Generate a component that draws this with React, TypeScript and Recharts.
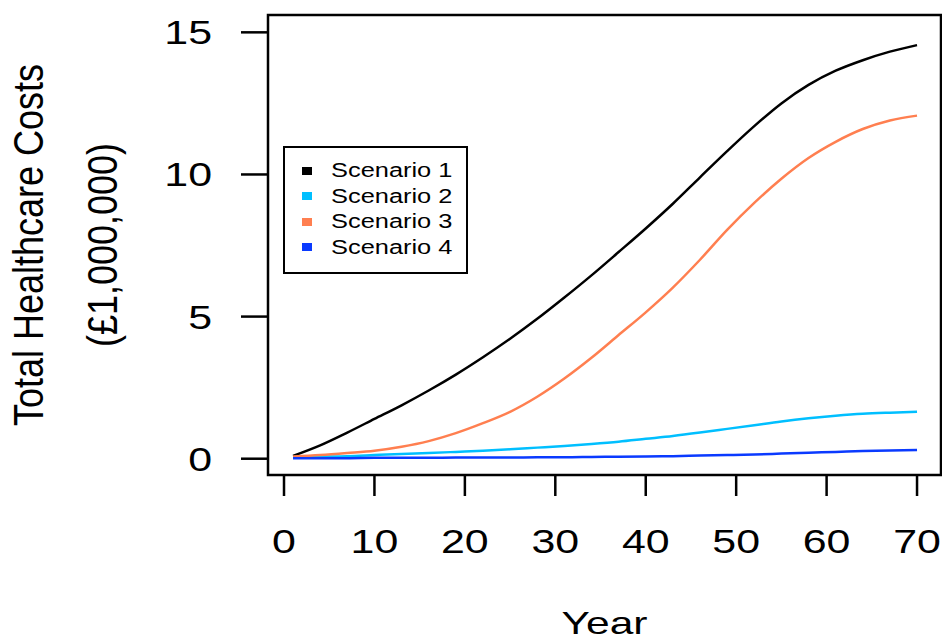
import { LineChart, Line, XAxis, YAxis, ReferenceArea, Label } from 'recharts';

const years = [1, 4, 7, 10, 13, 16, 19, 22, 25, 28, 31, 34, 37, 40, 43, 46, 49, 52, 55, 58, 61, 64, 67, 70];

const scenario1 = [0.1, 0.47, 0.92, 1.4, 1.88, 2.4, 2.96, 3.57, 4.22, 4.92, 5.67, 6.45, 7.27, 8.1, 8.97, 9.9, 10.82, 11.7, 12.5, 13.15, 13.65, 14.02, 14.32, 14.55];
const scenario2 = [0.05, 0.07, 0.09, 0.13, 0.17, 0.2, 0.24, 0.28, 0.33, 0.39, 0.45, 0.52, 0.6, 0.7, 0.8, 0.92, 1.05, 1.18, 1.31, 1.42, 1.51, 1.58, 1.62, 1.65];
const scenario3 = [0.08, 0.13, 0.2, 0.28, 0.42, 0.62, 0.9, 1.25, 1.65, 2.18, 2.82, 3.55, 4.35, 5.15, 6.02, 7.0, 8.05, 9.0, 9.85, 10.58, 11.15, 11.6, 11.9, 12.07];
const scenario4 = [0.02, 0.02, 0.02, 0.03, 0.03, 0.03, 0.04, 0.04, 0.04, 0.05, 0.05, 0.06, 0.07, 0.08, 0.09, 0.11, 0.13, 0.15, 0.18, 0.21, 0.24, 0.27, 0.29, 0.31];

const seriesNames = ['Scenario 1', 'Scenario 2', 'Scenario 3', 'Scenario 4'];
const seriesKeys = ['s1', 's2', 's3', 's4'];
const seriesColors = ['#000000', '#00BFFF', '#FF7F50', '#0a3aff'];
const seriesValues = [scenario1, scenario2, scenario3, scenario4];

const xTicks = [0, 10, 20, 30, 40, 50, 60, 70];
const yTicks = [0, 5, 10, 15];

const X_DOMAIN: [number, number] = [-1.77, 72.65];
const Y_DOMAIN: [number, number] = [-0.573, 15.61];

const data = years.map((year, i) => {
  const row: Record<string, number> = { year };
  seriesKeys.forEach((key, k) => {
    row[key] = seriesValues[k][i];
  });
  return row;
});

const FONT = '"Liberation Sans", Arial, sans-serif';

function XTick({ x, y, payload }: any) {
  return (
    <g transform={`translate(${x},${y})`}>
      <text transform="scale(1.3,1)" y={57} textAnchor="middle" fontSize={33} fontFamily={FONT} fill="#000">
        {payload.value}
      </text>
    </g>
  );
}

function YTick({ x, y, payload }: any) {
  return (
    <g transform={`translate(${x - 29},${y})`}>
      <text transform="scale(1.3,1)" y={12} textAnchor="end" fontSize={33} fontFamily={FONT} fill="#000">
        {payload.value}
      </text>
    </g>
  );
}

function XTitle({ viewBox }: any) {
  const { x, y, width } = viewBox;
  return (
    <g transform={`translate(${x + width / 2},${y + 159})`}>
      <text transform="scale(1.33,1)" textAnchor="middle" fontSize={32} fontFamily={FONT} fill="#000">
        Year
      </text>
    </g>
  );
}

function YTitle({ viewBox }: any) {
  const { y, height } = viewBox;
  const cy = y + height / 2;
  return (
    <g fontSize={36} fontFamily={FONT} fill="#000">
      <text transform={`translate(43,${cy}) scale(1.17,1) rotate(-90)`} textAnchor="middle">
        Total Healthcare Costs
      </text>
      <text transform={`translate(116.5,${cy}) scale(1.17,1) rotate(-90)`} textAnchor="middle">
        (£1,000,000)
      </text>
    </g>
  );
}

function LegendBox() {
  return (
    <div
      style={{
        position: 'absolute',
        left: 283,
        top: 146,
        width: 185,
        height: 128,
        boxSizing: 'border-box',
        border: '2.5px solid #000',
        background: '#fff',
        paddingTop: 10,
        fontFamily: FONT,
      }}
    >
      {seriesNames.map((name, i) => (
        <div key={name} style={{ position: 'relative', height: 25.5 }}>
          <span
            style={{
              position: 'absolute',
              left: 16.5,
              top: 8.75,
              width: 10,
              height: 8,
              background: seriesColors[i],
            }}
          />
          <span
            style={{
              position: 'absolute',
              left: 46,
              top: 0,
              fontSize: 20,
              lineHeight: '25.5px',
              whiteSpace: 'nowrap',
              transform: 'scaleX(1.27)',
              transformOrigin: 'left center',
              color: '#000',
            }}
          >
            {name}
          </span>
        </div>
      ))}
    </div>
  );
}

export default function App() {
  return (
    <div style={{ position: 'absolute', left: 0, top: 0, width: 942, height: 639, background: '#fff' }}>
      <LineChart width={942} height={639} data={data} margin={{ top: 15, right: 1, left: 0, bottom: 0 }}>
        <XAxis
          dataKey="year"
          type="number"
          domain={X_DOMAIN}
          ticks={xTicks}
          allowDataOverflow
          height={164}
          tickSize={21}
          tickMargin={0}
          axisLine={false}
          tickLine={{ stroke: '#000', strokeWidth: 2.5 }}
          tick={<XTick />}
          interval={0}
        >
          <Label content={<XTitle />} />
        </XAxis>
        <YAxis
          type="number"
          domain={Y_DOMAIN}
          ticks={yTicks}
          allowDataOverflow
          width={268}
          tickSize={27}
          tickMargin={0}
          axisLine={false}
          tickLine={{ stroke: '#000', strokeWidth: 2.5 }}
          tick={<YTick />}
          interval={0}
        >
          <Label content={<YTitle />} />
        </YAxis>
        {seriesKeys.map((key, i) => (
          <Line
            key={key}
            dataKey={key}
            name={seriesNames[i]}
            type="monotone"
            stroke={seriesColors[i]}
            strokeWidth={2.5}
            dot={false}
            isAnimationActive={false}
          />
        ))}
        <ReferenceArea
          x1={X_DOMAIN[0]}
          x2={X_DOMAIN[1]}
          y1={Y_DOMAIN[0]}
          y2={Y_DOMAIN[1]}
          fill="none"
          stroke="#000"
          strokeWidth={2.5}
          ifOverflow="visible"
        />
      </LineChart>
      <LegendBox />
    </div>
  );
}
